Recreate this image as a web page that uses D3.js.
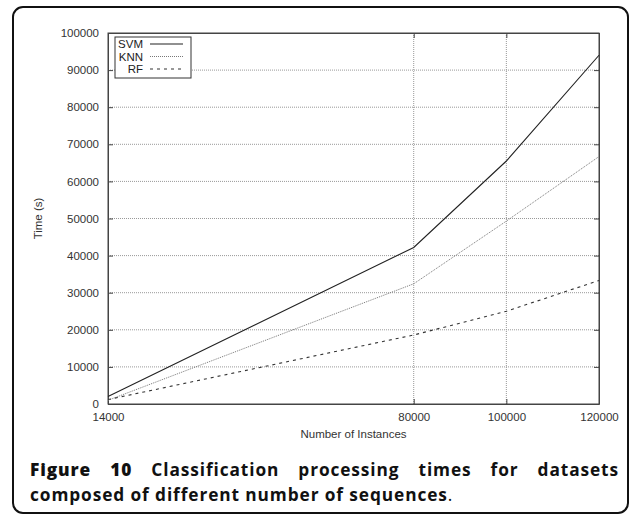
<!DOCTYPE html>
<html>
<head>
<meta charset="utf-8">
<script src="https://d3js.org/d3.v7.min.js"></script>
<style>
  body { margin: 0; background: #fff; }
  .axis text { font-family: "Liberation Sans", Arial, sans-serif; font-size: 11.5px; fill: #333; }
  .caption { font-family: "Open Sans", sans-serif; font-size: 17.3px; font-weight: 700; fill: #111; letter-spacing: 0.9px; }
</style>
</head>
<body>
<div id="chart"></div>
<script>
// data
var instances = [14000, 80000, 100000, 120000];
var svmTimes = [2000, 42200, 65500, 94000];
var knnTimes = [1000, 32400, 49300, 66700];
var rfTimes = [1200, 18600, 25000, 33300];
var seriesNames = ["SVM", "KNN", "RF"];
var yTicks = [0, 10000, 20000, 30000, 40000, 50000, 60000, 70000, 80000, 90000, 100000];
var xTicks = [14000, 80000, 100000, 120000];

var width = 637, height = 516;
var plotLeft = 108, plotRight = 599, plotTop = 33, plotBottom = 404;

var svg = d3.select("#chart").append("svg")
    .attr("width", width)
    .attr("height", height);

// outer rounded frame
svg.append("rect")
    .attr("x", 13).attr("y", 7)
    .attr("width", 615).attr("height", 506)
    .attr("rx", 10)
    .attr("fill", "none")
    .attr("stroke", "#111")
    .attr("stroke-width", 2);

var xScale = d3.scaleLinear().domain([14000, 120000]).range([plotLeft, plotRight]);
var yScale = d3.scaleLinear().domain([0, 100000]).range([plotBottom, plotTop]);

// grid
svg.append("g").selectAll("line")
    .data(yTicks.slice(1, -1))
    .enter().append("line")
    .attr("x1", plotLeft).attr("x2", plotRight)
    .attr("y1", function(d) { return yScale(d); })
    .attr("y2", function(d) { return yScale(d); })
    .attr("stroke", "#999")
    .attr("stroke-dasharray", "1,1");

svg.append("g").selectAll("line")
    .data([80000, 100000])
    .enter().append("line")
    .attr("y1", plotTop).attr("y2", plotBottom)
    .attr("x1", function(d) { return xScale(d); })
    .attr("x2", function(d) { return xScale(d); })
    .attr("stroke", "#999")
    .attr("stroke-dasharray", "1,1");

// axes (gnuplot style: ticks pointing in)
var yAxis = d3.axisLeft(yScale).tickValues(yTicks).tickSizeInner(-5).tickSizeOuter(0).tickPadding(9).tickFormat(d3.format("d"));
svg.append("g").attr("class", "axis")
    .attr("transform", "translate(" + plotLeft + ",0)")
    .call(yAxis);

var yAxisR = d3.axisRight(yScale).tickValues(yTicks).tickSizeInner(-5).tickSizeOuter(0).tickFormat("");
svg.append("g").attr("class", "axis")
    .attr("transform", "translate(" + plotRight + ",0)")
    .call(yAxisR);

var xAxis = d3.axisBottom(xScale).tickValues(xTicks).tickSizeInner(-5).tickSizeOuter(0).tickPadding(9).tickFormat(d3.format("d"));
svg.append("g").attr("class", "axis")
    .attr("transform", "translate(0," + plotBottom + ")")
    .call(xAxis);

var xAxisT = d3.axisTop(xScale).tickValues(xTicks).tickSizeInner(-5).tickSizeOuter(0).tickFormat("");
svg.append("g").attr("class", "axis")
    .attr("transform", "translate(0," + plotTop + ")")
    .call(xAxisT);

svg.selectAll(".axis path, .axis line").attr("stroke", "#444");

// plot border
svg.append("rect")
    .attr("x", plotLeft).attr("y", plotTop)
    .attr("width", plotRight - plotLeft).attr("height", plotBottom - plotTop)
    .attr("fill", "none")
    .attr("stroke", "#444");

// axis titles
svg.append("text")
    .attr("transform", "translate(42," + ((plotTop + plotBottom) / 2) + ") rotate(-90)")
    .attr("text-anchor", "middle")
    .attr("font-family", "Liberation Sans, Arial, sans-serif")
    .attr("font-size", 11.5)
    .attr("fill", "#333")
    .text("Time (s)");

svg.append("text")
    .attr("x", (plotLeft + plotRight) / 2).attr("y", 438)
    .attr("text-anchor", "middle")
    .attr("font-family", "Liberation Sans, Arial, sans-serif")
    .attr("font-size", 11.5)
    .attr("fill", "#333")
    .text("Number of Instances");

// series
var styles = [
    { stroke: "#222", dash: null, width: 1.1 },
    { stroke: "#777", dash: "1,1", width: 1 },
    { stroke: "#333", dash: "3,4", width: 1.1 }
];
var allSeries = [svmTimes, knnTimes, rfTimes];

var line = d3.line()
    .x(function(d, i) { return xScale(instances[i]); })
    .y(function(d) { return yScale(d); });

svg.append("g").selectAll("path")
    .data(allSeries)
    .enter().append("path")
    .attr("d", line)
    .attr("fill", "none")
    .attr("stroke", function(d, i) { return styles[i].stroke; })
    .attr("stroke-width", function(d, i) { return styles[i].width; })
    .attr("stroke-dasharray", function(d, i) { return styles[i].dash; });

// legend
var legend = svg.append("g");
legend.append("rect")
    .attr("x", 115).attr("y", 37)
    .attr("width", 76).attr("height", 41)
    .attr("fill", "#fff")
    .attr("stroke", "#333");

var rows = legend.selectAll("g.row")
    .data(seriesNames)
    .enter().append("g")
    .attr("class", "row")
    .attr("transform", function(d, i) { return "translate(0," + (44 + i * 12.5) + ")"; });

rows.append("text")
    .attr("x", 143).attr("dy", "0.35em")
    .attr("text-anchor", "end")
    .attr("font-family", "Liberation Sans, Arial, sans-serif")
    .attr("font-size", 11.5)
    .attr("fill", "#222")
    .text(function(d) { return d; });

rows.append("line")
    .attr("x1", 150).attr("x2", 183)
    .attr("stroke", function(d, i) { return styles[i].stroke; })
    .attr("stroke-width", function(d, i) { return styles[i].width; })
    .attr("stroke-dasharray", function(d, i) { return styles[i].dash; });

// caption, first line justified by widening the word gaps
var cap1 = svg.append("text").attr("class", "caption")
    .attr("x", 30).attr("y", 476);
cap1.append("tspan").attr("font-weight", 800).text("Figure 10 ");
cap1.append("tspan").text("Classification processing times for datasets");
var capLen = cap1.node().getBBox().width;
cap1.attr("word-spacing", Math.max(0, (589 - capLen) / 6));

var cap2 = svg.append("text").attr("class", "caption")
    .attr("x", 30).attr("y", 501);
cap2.append("tspan").text("composed of different number of sequences");
cap2.append("tspan").attr("font-weight", 400).text(".");
</script>
</body>
</html>
